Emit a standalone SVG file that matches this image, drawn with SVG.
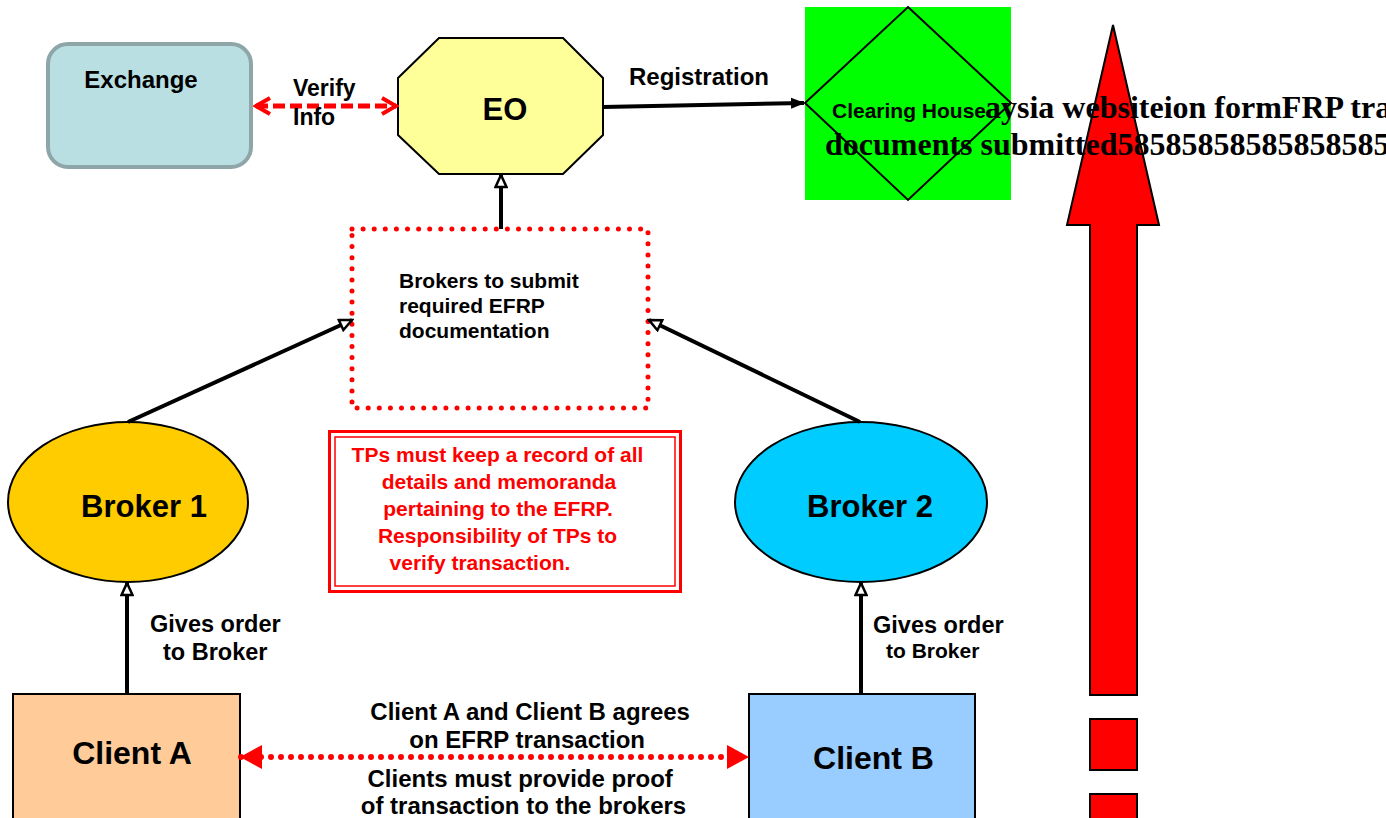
<svg xmlns="http://www.w3.org/2000/svg" width="1386" height="818" viewBox="0 0 1386 818">
<defs>
<style>
text{font-family:"Liberation Sans",Arial,sans-serif;font-weight:bold;fill:#000}
.ser{font-family:"Liberation Serif","Times New Roman",serif;font-weight:bold;font-size:32px}
.red{fill:#FF0000}
.blk{stroke:#000;stroke-width:4;fill:none}
.shape{stroke:#000;stroke-width:2}
</style>
<marker id="open" viewBox="0 0 16 14" refX="14" refY="7" markerWidth="16" markerHeight="14" markerUnits="userSpaceOnUse" orient="auto">
<path d="M2,1.5 L14,7 L2,12.5 Z" fill="#fff" stroke="#000" stroke-width="2.5" stroke-linejoin="miter"/>
</marker>
<marker id="solid" viewBox="0 0 14 12" refX="13" refY="6" markerWidth="14" markerHeight="12" markerUnits="userSpaceOnUse" orient="auto">
<path d="M0,0.5 L14,6 L0,11.5 Z" fill="#000"/>
</marker>
<marker id="chev" viewBox="0 0 20 20" refX="17" refY="10" markerWidth="20" markerHeight="20" markerUnits="userSpaceOnUse" orient="auto-start-reverse">
<path d="M3,2 L17,10 L3,18" fill="none" stroke="#FF0000" stroke-width="4"/>
</marker>
<marker id="redtri" viewBox="0 0 22 24" refX="21" refY="12" markerWidth="22" markerHeight="24" markerUnits="userSpaceOnUse" orient="auto-start-reverse">
<path d="M0,0 L22,12 L0,24 Z" fill="#FF0000"/>
</marker>
</defs>

<g id="exchange">
<rect x="48" y="44" width="203" height="123" rx="20" fill="#B9DFE3" stroke="#8FA6A8" stroke-width="4"/>
<text x="141" y="88" font-size="24" text-anchor="middle">Exchange</text>
</g>

<g id="eo">
<polygon class="shape" points="439,38 563,38 603,78 603,135 563,174 439,174 398,135 398,78" fill="#FFFF99"/>
<text x="505" y="120" font-size="31" text-anchor="middle">EO</text>
</g>

<g id="clearing-house">
<rect x="805" y="7" width="206" height="193" fill="#00FF00"/>
<polygon points="908,7 1011,103 908,200 805,103" fill="none" stroke="#000" stroke-width="2"/>
<text x="832" y="118" font-size="21">Clearing House</text>
</g>

<g id="big-arrow">
<polygon points="1113,25 1159,225 1137,225 1137,695 1090,695 1090,225 1067,225" fill="#FF0000" stroke="#000" stroke-width="2"/>
<rect x="1090" y="719" width="47" height="51" fill="#FF0000" stroke="#000" stroke-width="2"/>
<rect x="1090" y="794" width="47" height="40" fill="#FF0000" stroke="#000" stroke-width="2"/>
</g>

<g id="overflow-text">
<text class="ser" x="985" y="118">aysia websiteion formFRP tra</text>
<text class="ser" x="825" y="155">documents submitted585858585858585858</text>
</g>

<g id="brokers-submit">
<rect x="352" y="229" width="296" height="179" fill="none" stroke="#FF0000" stroke-width="5" stroke-dasharray="0 11.1" stroke-linecap="round"/>
<text font-size="21"><tspan x="399" y="288">Brokers to submit</tspan><tspan x="399" y="313">required EFRP</tspan><tspan x="399" y="338">documentation</tspan></text>
</g>

<g id="tps-note">
<rect x="329.5" y="431.5" width="351" height="160" fill="#fff" stroke="#FF0000" stroke-width="3"/>
<rect x="335" y="437" width="340" height="149" fill="none" stroke="#FF0000" stroke-width="1.5"/>
<g class="red" font-size="21" text-anchor="middle">
<text class="red" x="497.5" y="462">TPs must keep a record of all</text>
<text class="red" x="499" y="489">details and memoranda</text>
<text class="red" x="498" y="516">pertaining to the EFRP.</text>
<text class="red" x="497.5" y="543">Responsibility of TPs to</text>
<text class="red" x="480" y="570">verify transaction.</text>
</g>
</g>

<g id="broker1">
<ellipse class="shape" cx="128" cy="502" rx="120" ry="80" fill="#FFCC00"/>
<text x="144" y="517" font-size="31" text-anchor="middle">Broker 1</text>
</g>

<g id="broker2">
<ellipse class="shape" cx="861" cy="502" rx="126" ry="80" fill="#00CCFF"/>
<text x="870" y="517" font-size="31" text-anchor="middle">Broker 2</text>
</g>

<g id="clientA">
<rect class="shape" x="13" y="694" width="227" height="130" fill="#FFCC99"/>
<text x="132" y="764" font-size="32" text-anchor="middle">Client A</text>
</g>

<g id="clientB">
<rect class="shape" x="749" y="694" width="226" height="130" fill="#99CCFF"/>
<text x="873.5" y="769" font-size="32" text-anchor="middle">Client B</text>
</g>

<g id="connectors">
<line x1="256" y1="106" x2="396" y2="106" stroke="#FF0000" stroke-width="5" stroke-dasharray="12 5" marker-start="url(#chev)" marker-end="url(#chev)"/>
<line x1="603" y1="107" x2="804" y2="103" class="blk" marker-end="url(#solid)"/>
<line x1="501" y1="229" x2="501" y2="175" class="blk" marker-end="url(#open)"/>
<line x1="128" y1="422" x2="352" y2="320" class="blk" marker-end="url(#open)"/>
<line x1="860" y1="422" x2="649" y2="320" class="blk" marker-end="url(#open)"/>
<line x1="127" y1="694" x2="127" y2="583" class="blk" marker-end="url(#open)"/>
<line x1="861" y1="694" x2="861" y2="583" class="blk" marker-end="url(#open)"/>
<line x1="241" y1="757" x2="748" y2="757" stroke="#FF0000" stroke-width="6" stroke-dasharray="0 10" stroke-linecap="round" marker-start="url(#redtri)" marker-end="url(#redtri)"/>
</g>

<g id="labels">
<text x="293" y="96" font-size="23">Verify</text>
<text x="293" y="125" font-size="23">Info</text>
<text x="629" y="85" font-size="24">Registration</text>
<text x="150" y="632" font-size="23.5">Gives order</text>
<text x="163" y="660" font-size="23.5">to Broker</text>
<text x="873" y="633" font-size="23.5">Gives order</text>
<text x="886" y="658" font-size="21">to Broker</text>
<text font-size="24" text-anchor="middle">
<tspan x="533.5" y="720">Client A and Client B agrees</tspan>
<tspan x="530.5" y="748">on EFRP transaction</tspan>
<tspan x="523.5" y="787">Clients must provide proof</tspan>
<tspan x="523.5" y="814">of transaction to the brokers</tspan>
</text>
</g>
</svg>
